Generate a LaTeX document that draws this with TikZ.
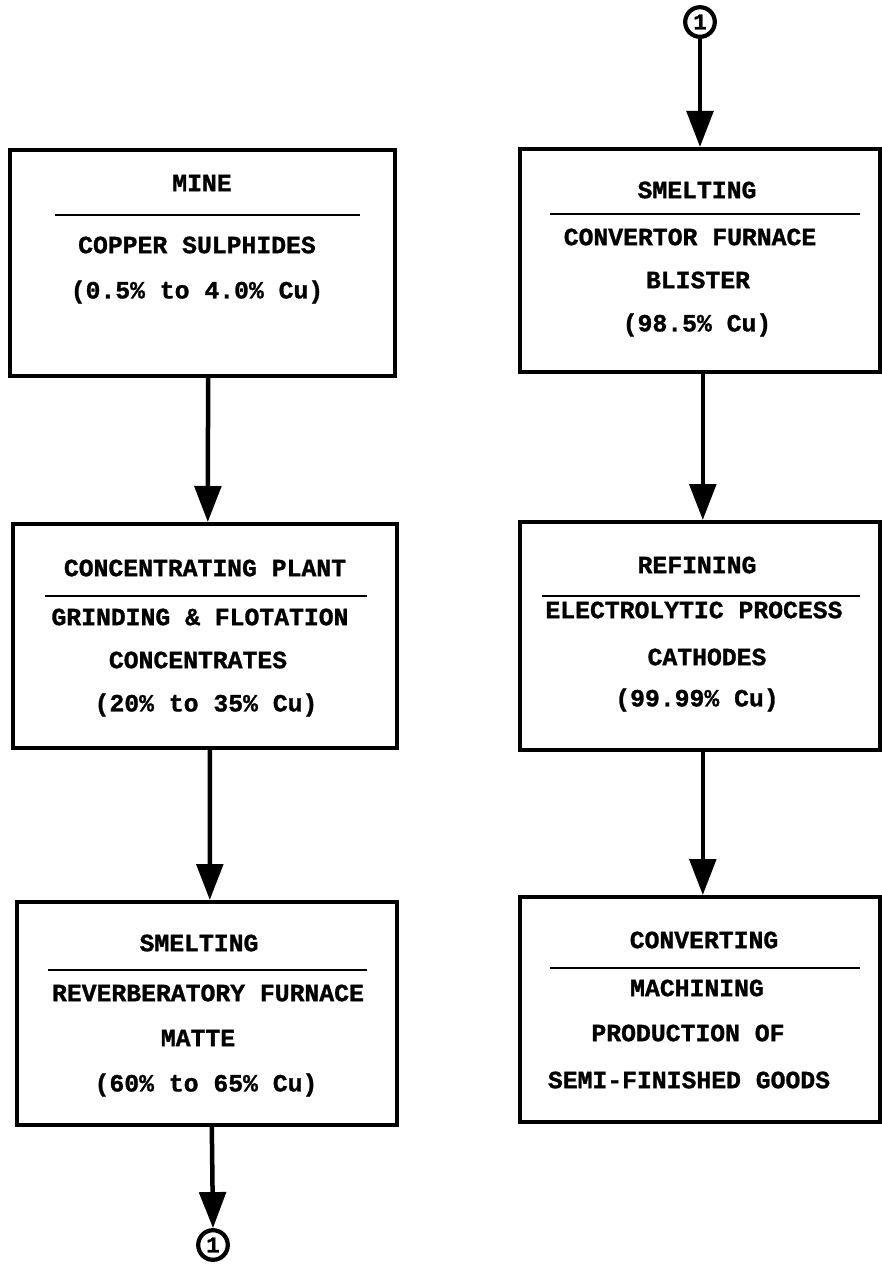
\documentclass[tikz,border=0pt]{standalone}
\usepackage{fontspec}
\setmonofont[BoldFeatures={FakeBold=1.2}]{Liberation Mono}
\usetikzlibrary{arrows.meta}
\begin{document}
\begin{tikzpicture}[x=0.025cm,y=-0.025cm,
  boxn/.style={draw, line width=2.8pt, inner sep=0pt, rectangle},
  lbl/.style={inner sep=0pt, font=\ttfamily\bfseries\fontsize{17.6}{20}\selectfont, anchor=center},
  rulel/.style={line width=2pt},
  arr/.style={line width=3.2pt, -{Triangle[length=0.9cm,width=0.66cm]}},
  conn/.style={draw, circle, line width=3pt, minimum size=0.74cm, inner sep=0pt, font=\ttfamily\bfseries\fontsize{16}{16}\selectfont}]
\clip (0,0) rectangle (882,1264);
\fill[white] (0,0) rectangle (882,1264);

% boxes
\node[boxn, minimum width=9.625cm, minimum height=5.65cm] (b1) at (202.5,263) {};
\node[boxn, minimum width=9.6cm, minimum height=5.6cm] (b2) at (205,636) {};
\node[boxn, minimum width=9.5cm, minimum height=5.575cm] (b3) at (207,1013.5) {};
\node[boxn, minimum width=9.0cm, minimum height=5.575cm] (b4) at (700,260.5) {};
\node[boxn, minimum width=9.0cm, minimum height=5.7cm] (b5) at (700,636) {};
\node[boxn, minimum width=9.0cm, minimum height=5.625cm] (b6) at (700,1009.5) {};

% connector circles
\node[conn] (c1) at (700,22) {1};
\node[conn] (c2) at (213,1245) {1};

% box 1
\node[lbl] (t11) at (202,183) {MINE};
\draw[rulel] (55,215) -- (360,215);
\node[lbl] (t12) at (197,245) {COPPER SULPHIDES};
\node[lbl] (t13) at (197,292) {(0.5\% to 4.0\% Cu)};

% box 2
\node[lbl] (t21) at (205,568) {CONCENTRATING PLANT};
\draw[rulel] (45,596) -- (367,596);
\node[lbl] (t22) at (200,617) {GRINDING \& FLOTATION};
\node[lbl] (t23) at (198,660) {CONCENTRATES};
\node[lbl] (t24) at (206,705) {(20\% to 35\% Cu)};

% box 3
\node[lbl] (t31) at (199,943) {SMELTING};
\draw[rulel] (48,970) -- (367,970);
\node[lbl] (t32) at (208,993) {REVERBERATORY FURNACE};
\node[lbl] (t33) at (198,1038) {MATTE};
\node[lbl] (t34) at (206,1085) {(60\% to 65\% Cu)};

% box 4
\node[lbl] (t41) at (697,190) {SMELTING};
\draw[rulel] (550,214) -- (860,214);
\node[lbl] (t42) at (690,237) {CONVERTOR FURNACE};
\node[lbl] (t43) at (698,280) {BLISTER};
\node[lbl] (t44) at (697,325) {(98.5\% Cu)};

% box 5
\node[lbl] (t51) at (697,565) {REFINING};
\draw[rulel] (542,596) -- (860,596);
\node[lbl] (t52) at (694,610) {ELECTROLYTIC PROCESS};
\node[lbl] (t53) at (707,657) {CATHODES};
\node[lbl] (t54) at (697,700) {(99.99\% Cu)};

% box 6
\node[lbl] (t61) at (704,940) {CONVERTING};
\draw[rulel] (550,968) -- (860,968);
\node[lbl] (t62) at (697,988) {MACHINING};
\node[lbl] (t63) at (688,1033) {PRODUCTION OF};
\node[lbl] (t64) at (689,1080) {SEMI-FINISHED GOODS};

% connectors
\draw[arr] ([xshift=0.14cm]b1.south) -- ([xshift=0.07cm]b2.north);
\draw[arr] ([xshift=0.12cm]b2.south) -- ([xshift=0.07cm]b3.north);
\draw[arr] ([xshift=0.12cm]b3.south) -- (c2.north);
\draw[arr] (c1.south) -- (b4.north);
\draw[arr] ([xshift=0.07cm]b4.south) -- ([xshift=0.07cm]b5.north);
\draw[arr] ([xshift=0.07cm]b5.south) -- ([xshift=0.07cm]b6.north);
\end{tikzpicture}
\end{document}
